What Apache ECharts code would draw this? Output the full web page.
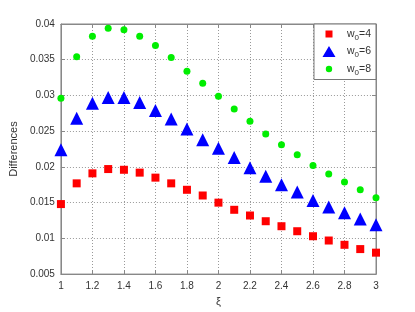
<!DOCTYPE html>
<html><head><meta charset="utf-8">
<script src="https://cdn.jsdelivr.net/npm/echarts@6/dist/echarts.min.js"></script>
<style>html,body{margin:0;padding:0;background:#fff}#c{width:415px;height:312px}</style>
</head><body><div id="c"></div>
<script>
const xi = [1,1.1,1.2,1.3,1.4,1.5,1.6,1.7,1.8,1.9,2,2.1,2.2,2.3,2.4,2.5,2.6,2.7,2.8,2.9,3];
const w4 = [0.0148,0.0177,0.0191,0.0197,0.0196,0.0192,0.0185,0.0177,0.0168,0.0160,0.0150,0.0140,0.0132,0.0124,0.0117,0.0110,0.0103,0.0097,0.0091,0.0085,0.0080];
const w6 = [0.0224,0.0268,0.0289,0.0297,0.0297,0.0290,0.0279,0.0267,0.0253,0.0238,0.0226,0.0213,0.0199,0.0187,0.0175,0.0165,0.0153,0.0144,0.0136,0.0127,0.0119];
const w8 = [0.0296,0.0354,0.0383,0.0394,0.0392,0.0383,0.0370,0.0353,0.0334,0.0317,0.0299,0.0281,0.0264,0.0246,0.0231,0.0217,0.0202,0.0190,0.0179,0.0168,0.0157];
const seriesNames = ['w{s|0}=4','w{s|0}=6','w{s|0}=8'];
const yLabel = 'Differences';
const xLabel = 'ξ';

const pair = arr => xi.map((x,i)=>[x,arr[i]]);
const font = 'Liberation Sans, Arial, sans-serif';
const axisCol = '#888';
const gridLine = {show:true, lineStyle:{color:'#999', type:[1,2], width:1}};
const pad = 'M0,0L0.01,0L0.01,0.01Z M20,12L19.99,12L19.99,11.99Z ';
const iconSq = 'path://' + pad + 'M4.5,2.5L11.5,2.5L11.5,9.5L4.5,9.5Z';
const iconTri = 'path://' + pad + 'M8,0.5L14.5,11.5L1.5,11.5Z';
const iconCir = 'path://' + pad + 'M4.8,6A3.2,3.2,0,1,1,11.2,6A3.2,3.2,0,1,1,4.8,6Z';
const chart = echarts.init(document.getElementById('c'), null, {renderer:'canvas'});
chart.setOption({
  animation:false,
  backgroundColor:'#fff',
  grid:{left:53, right:39, top:24, bottom:33, show:true, borderColor:axisCol, borderWidth:1},
  xAxis:[{type:'value', min:1, max:3, interval:0.2, position:'bottom',
    name:xLabel, nameLocation:'middle', nameGap:21, nameTextStyle:{fontFamily:font, fontSize:11, color:'#333'},
    axisLine:{show:true, lineStyle:{color:axisCol}}, axisTick:{show:true, inside:true, length:4, lineStyle:{color:axisCol}},
    axisLabel:{fontFamily:font, fontSize:10, color:'#333', margin:7}, splitLine:gridLine},
   {type:'value', min:1, max:3, interval:0.2, position:'top',
    axisLine:{show:true, lineStyle:{color:axisCol}}, axisTick:{show:true, inside:true, length:4, lineStyle:{color:axisCol}},
    axisLabel:{show:false}, splitLine:{show:false}}],
  yAxis:[{type:'value', min:0.005, max:0.04, interval:0.005, position:'left',
    name:yLabel, nameLocation:'middle', nameGap:35, nameTextStyle:{fontFamily:font, fontSize:11, color:'#333'},
    axisLine:{show:true, lineStyle:{color:axisCol}}, axisTick:{show:true, inside:true, length:4, lineStyle:{color:axisCol}},
    axisLabel:{fontFamily:font, fontSize:10, color:'#333', margin:6}, splitLine:gridLine},
   {type:'value', min:0.005, max:0.04, interval:0.005, position:'right',
    axisLine:{show:true, lineStyle:{color:axisCol}}, axisTick:{show:true, inside:true, length:4, lineStyle:{color:axisCol}},
    axisLabel:{show:false}, splitLine:{show:false}}],
  legend:{orient:'vertical', right:39, top:24, backgroundColor:'#fff', borderColor:'#777', borderWidth:1,
    padding:[4,5,3,7], itemGap:4, itemWidth:22, itemHeight:12,
    textStyle:{fontFamily:font, fontSize:10.5, color:'#333', rich:{s:{fontSize:8, verticalAlign:'bottom', padding:[7,0,0,0], fontFamily:font, color:'#333'}}},
    data:[{name:seriesNames[0], icon:iconSq},{name:seriesNames[1], icon:iconTri},{name:seriesNames[2], icon:iconCir}]},
  series:[
    {name:seriesNames[0], type:'scatter', symbol:'rect', symbolSize:8, itemStyle:{color:'#ff0000', opacity:1}, data:pair(w4)},
    {name:seriesNames[1], type:'scatter', symbol:'triangle', symbolSize:13, itemStyle:{color:'#0000ff', opacity:1}, data:pair(w6)},
    {name:seriesNames[2], type:'scatter', symbol:'circle', symbolSize:7, itemStyle:{color:'#00ee00', opacity:1}, data:pair(w8)}
  ]
});
</script></body></html>
